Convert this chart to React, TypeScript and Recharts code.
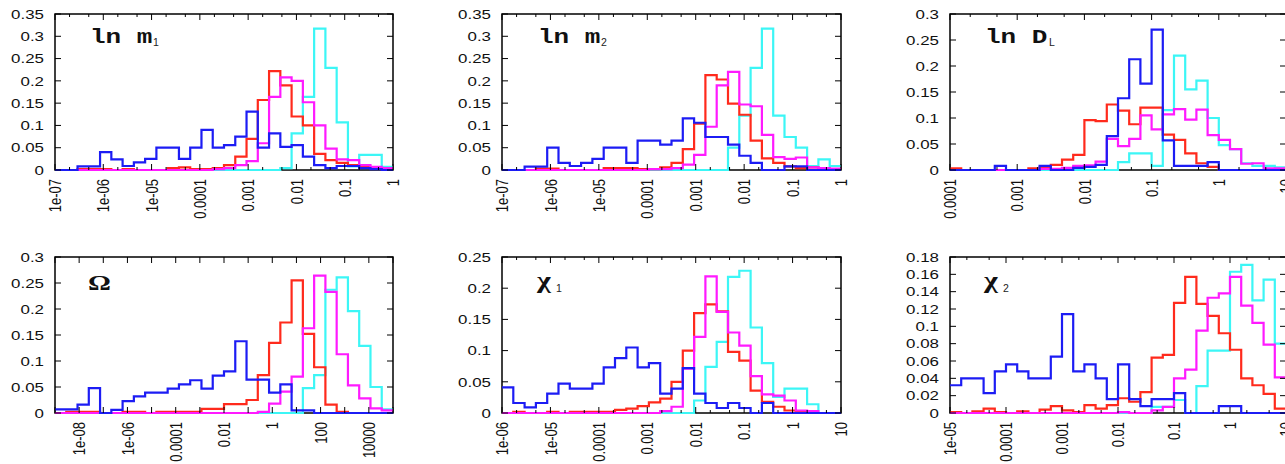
import React from 'react';
import { LineChart, Line, XAxis, YAxis, ReferenceArea } from 'recharts';

// x axes are log10, every panel has 30 equal bins spanning its x range
const xLabels7 = ['1e-07', '1e-06', '1e-05', '0.0001', '0.001', '0.01', '0.1', '1'];
const xLabelsDL = ['0.0001', '0.001', '0.01', '0.1', '1', '10'];
const xLabelsOmega = ['', '1e-08', '', '1e-06', '', '0.0001', '', '0.01', '', '1', '', '100', '', '10000', ''];
const xLabelsChi1 = ['1e-06', '1e-05', '0.0001', '0.001', '0.01', '0.1', '1', '10'];
const xLabelsChi2 = ['1e-05', '0.0001', '0.001', '0.01', '0.1', '1', '10'];

const yTicks35 = [0, 0.05, 0.1, 0.15, 0.2, 0.25, 0.3, 0.35];
const yLabels35 = ['0', '0.05', '0.1', '0.15', '0.2', '0.25', '0.3', '0.35'];
const yTicks30 = [0, 0.05, 0.1, 0.15, 0.2, 0.25, 0.3];
const yLabels30 = ['0', '0.05', '0.1', '0.15', '0.2', '0.25', '0.3'];
const yTicks25 = [0, 0.05, 0.1, 0.15, 0.2, 0.25];
const yLabels25 = ['0', '0.05', '0.1', '0.15', '0.2', '0.25'];
const yTicks18 = [0, 0.02, 0.04, 0.06, 0.08, 0.1, 0.12, 0.14, 0.16, 0.18];
const yLabels18 = ['0', '0.02', '0.04', '0.06', '0.08', '0.1', '0.12', '0.14', '0.16', '0.18'];

// ln m1
const m1Blue = [0, 0, 0.008, 0.008, 0.04, 0.024, 0.009, 0.017, 0.025, 0.05, 0.05, 0.025, 0.05, 0.09, 0.05, 0.056, 0.075, 0.131, 0.05, 0.082, 0.052, 0.056, 0.03, 0.011, 0.004, 0.009, 0.009, 0.004, 0.002, 0];
const m1Red = [0, 0, 0.002, 0.002, 0.002, 0, 0.002, 0, 0, 0, 0.004, 0.006, 0.002, 0.002, 0.004, 0.011, 0.03, 0.07, 0.157, 0.222, 0.19, 0.12, 0.1, 0.036, 0.022, 0.016, 0.011, 0.007, 0.004, 0.002];
const m1Magenta = [0, 0, 0, 0, 0, 0, 0, 0, 0, 0, 0, 0, 0, 0, 0.002, 0.004, 0.011, 0.02, 0.06, 0.164, 0.208, 0.2, 0.152, 0.1, 0.048, 0.024, 0.022, 0.011, 0.007, 0.004];
const m1Cyan = [0, 0, 0, 0, 0, 0, 0, 0, 0, 0, 0, 0, 0, 0, 0, 0, 0, 0, 0, 0, 0.004, 0.082, 0.164, 0.317, 0.229, 0.107, 0.008, 0.034, 0.034, 0.007];

// ln m2
const m2Blue = [0, 0, 0.0075, 0.0075, 0.05, 0.016, 0.009, 0.016, 0.025, 0.05, 0.05, 0.016, 0.066, 0.066, 0.057, 0.066, 0.116, 0.106, 0.074, 0.074, 0.057, 0.032, 0.016, 0, 0, 0.008, 0.008, 0, 0, 0];
const m2Red = [0, 0, 0, 0.003, 0.003, 0, 0, 0, 0, 0.004, 0.004, 0.004, 0.002, 0.002, 0.006, 0.016, 0.047, 0.104, 0.213, 0.203, 0.149, 0.124, 0.066, 0.026, 0.016, 0.008, 0.004, 0.006, 0.003, 0.002];
const m2Magenta = [0, 0, 0, 0, 0, 0, 0, 0, 0, 0, 0, 0, 0, 0.002, 0.002, 0.004, 0.012, 0.034, 0.097, 0.19, 0.22, 0.147, 0.143, 0.079, 0.029, 0.025, 0.028, 0.006, 0.004, 0.003];
const m2Cyan = [0, 0, 0, 0, 0, 0, 0, 0, 0, 0, 0, 0, 0, 0, 0, 0, 0, 0, 0, 0, 0.05, 0.122, 0.229, 0.317, 0.122, 0.074, 0.05, 0.009, 0.024, 0.009];

// ln D_L
const dlBlue = [0, 0, 0, 0, 0.008, 0, 0, 0, 0.008, 0, 0, 0.004, 0.006, 0.01, 0.065, 0.138, 0.213, 0.166, 0.27, 0.057, 0.008, 0.008, 0.008, 0.015, 0, 0, 0, 0, 0, 0];
const dlRed = [0.003, 0, 0, 0, 0, 0, 0, 0.003, 0.005, 0.01, 0.02, 0.029, 0.096, 0.094, 0.126, 0.114, 0.088, 0.12, 0.12, 0.068, 0.058, 0.032, 0.013, 0.006, 0, 0, 0, 0, 0, 0];
const dlMagenta = [0, 0, 0, 0, 0, 0, 0, 0, 0.002, 0.002, 0.004, 0.008, 0.009, 0.016, 0.06, 0.046, 0.06, 0.105, 0.078, 0.107, 0.117, 0.097, 0.116, 0.067, 0.058, 0.04, 0.012, 0.013, 0.003, 0.003];
const dlCyan = [0, 0, 0, 0, 0, 0, 0, 0, 0, 0, 0, 0, 0, 0, 0, 0.015, 0.032, 0.032, 0.008, 0.115, 0.22, 0.155, 0.172, 0.1, 0.048, 0.04, 0.013, 0.008, 0.008, 0.005];

// Omega
const omBlue = [0.007, 0.007, 0.016, 0.048, 0, 0.006, 0.023, 0.032, 0.039, 0.039, 0.047, 0.055, 0.063, 0.047, 0.072, 0.08, 0.138, 0.064, 0.064, 0.039, 0.055, 0.005, 0.005, 0, 0, 0, 0, 0, 0, 0];
const omRed = [0, 0.002, 0.002, 0.002, 0, 0, 0.002, 0.002, 0, 0.002, 0.002, 0.002, 0.002, 0.008, 0.008, 0.017, 0.017, 0.025, 0.073, 0.135, 0.174, 0.255, 0.152, 0.088, 0.016, 0.002, 0, 0, 0, 0];
const omMagenta = [0, 0, 0, 0, 0, 0, 0, 0, 0, 0, 0, 0, 0, 0, 0, 0, 0, 0, 0.002, 0.018, 0.041, 0.07, 0.163, 0.264, 0.233, 0.113, 0.053, 0.028, 0.009, 0.005];
const omCyan = [0, 0, 0, 0, 0, 0, 0, 0, 0, 0, 0, 0, 0, 0, 0, 0, 0, 0, 0, 0, 0, 0, 0.048, 0.073, 0.237, 0.261, 0.196, 0.129, 0.05, 0.007];

// chi1
const c1Blue = [0.041, 0.016, 0.009, 0.016, 0.031, 0.047, 0.039, 0.039, 0.047, 0.073, 0.088, 0.105, 0.073, 0.08, 0.031, 0.039, 0.072, 0.031, 0.016, 0.008, 0.016, 0.008, 0, 0.016, 0, 0, 0, 0, 0, 0];
const c1Red = [0, 0.002, 0, 0, 0.002, 0, 0.002, 0.002, 0.002, 0.002, 0.005, 0.007, 0.011, 0.017, 0.023, 0.05, 0.1, 0.16, 0.174, 0.163, 0.098, 0.084, 0.036, 0.018, 0.01, 0.004, 0.002, 0, 0, 0];
const c1Magenta = [0, 0, 0, 0, 0, 0, 0, 0, 0, 0, 0, 0, 0, 0, 0.003, 0.01, 0.071, 0.122, 0.219, 0.162, 0.129, 0.108, 0.059, 0.03, 0.028, 0.02, 0.004, 0.003, 0, 0];
const c1Cyan = [0, 0, 0, 0, 0, 0, 0, 0, 0, 0, 0, 0, 0, 0, 0, 0, 0, 0.02, 0.074, 0.114, 0.218, 0.228, 0.137, 0.08, 0.026, 0.039, 0.039, 0.014, 0, 0];

// chi2
const c2Blue = [0.032, 0.04, 0.04, 0.023, 0.048, 0.056, 0.048, 0.04, 0.04, 0.065, 0.114, 0.048, 0.056, 0.04, 0.016, 0.056, 0.016, 0.008, 0.016, 0.016, 0.023, 0, 0, 0, 0.008, 0.008, 0, 0, 0, 0];
const c2Red = [0.001, 0, 0.002, 0.005, 0.001, 0, 0.002, 0, 0.004, 0.008, 0.003, 0.001, 0.009, 0.005, 0.009, 0.017, 0.013, 0.024, 0.064, 0.067, 0.127, 0.157, 0.126, 0.112, 0.092, 0.073, 0.04, 0.032, 0.022, 0.005];
const c2Magenta = [0, 0, 0, 0, 0, 0, 0, 0, 0, 0, 0, 0, 0, 0, 0, 0.001, 0, 0, 0.003, 0.007, 0.04, 0.05, 0.095, 0.133, 0.138, 0.157, 0.124, 0.104, 0.079, 0.041];
const c2Cyan = [0, 0, 0, 0, 0, 0, 0, 0, 0, 0, 0, 0, 0, 0, 0, 0, 0, 0, 0.007, 0.007, 0.015, 0, 0.031, 0.072, 0.072, 0.163, 0.171, 0.13, 0.154, 0.08];

const COLORS = { cyan: '#3cf6f6', red: '#ff2a1c', magenta: '#ff1aff', blue: '#1c1cf4' };
const TICK_FONT = { fontFamily: '"Liberation Sans", Arial, sans-serif', fontSize: 13, fill: '#111' };

const PL = 55; // plot left inside each chart
const PT = 6; // plot top inside each chart
const PRM = 14; // room right of the plot for the last x label
const NB = 30;

type PanelProps = {
  left: number;
  top: number;
  plotW: number;
  plotH: number;
  lo: number;
  hi: number;
  xLabels: string[];
  minors: boolean;
  yTicks: number[];
  yLabels: string[];
  blue: number[];
  red: number[];
  magenta: number[];
  cyan: number[];
};

const Panel = (p: PanelProps) => {
  const PB = PT + p.plotH;
  const PR = PL + p.plotW;
  const rows = [];
  for (let i = 0; i <= NB; i++) {
    const k = Math.min(i, NB - 1);
    rows.push({
      x: 10 ** (p.lo + ((p.hi - p.lo) * i) / NB),
      blue: p.blue[k],
      red: p.red[k],
      magenta: p.magenta[k],
      cyan: p.cyan[k],
    });
  }
  const majors: number[] = [];
  for (let e = p.lo; e <= p.hi; e++) majors.push(e);
  const tickVals: number[] = majors.map((e) => 10 ** e);
  if (p.minors) {
    for (let e = p.lo; e < p.hi; e++) tickVals.push(2 * 10 ** e, 5 * 10 ** e);
  }

  const xTick = (props: any) => {
    const { x, payload } = props;
    const e = Math.log10(payload.value);
    const i = majors.findIndex((m) => Math.abs(m - e) < 1e-6);
    const len = i >= 0 ? 6 : 3;
    const label = i >= 0 ? p.xLabels[i] : '';
    return (
      <g>
        <line x1={x} x2={x} y1={PB} y2={PB - len} stroke="#000" />
        <line x1={x} x2={x} y1={PT} y2={PT + len} stroke="#000" />
        {label ? (
          <text
            transform={`translate(${x},${PB + 9}) scale(1.3,1) rotate(-90)`}
            textAnchor="end"
            dominantBaseline="central"
            {...TICK_FONT}
          >
            {label}
          </text>
        ) : null}
      </g>
    );
  };

  const yTick = (props: any) => {
    const { y, payload } = props;
    const i = p.yTicks.findIndex((t) => Math.abs(t - payload.value) < 1e-9);
    return (
      <g>
        <line x1={PL} x2={PL + 6} y1={y} y2={y} stroke="#000" />
        <line x1={PR} x2={PR - 6} y1={y} y2={y} stroke="#000" />
        <text
          transform={`translate(${PL - 11},${y}) scale(1.3,1)`}
          textAnchor="end"
          dominantBaseline="central"
          {...TICK_FONT}
        >
          {p.yLabels[i]}
        </text>
      </g>
    );
  };

  const yMax = p.yTicks[p.yTicks.length - 1];
  return (
    <div style={{ position: 'absolute', left: p.left - PL, top: p.top - PT }}>
      <LineChart
        width={PL + p.plotW + PRM}
        height={PT + p.plotH + 60}
        data={rows}
        margin={{ top: PT, right: PRM, left: 0, bottom: 0 }}
      >
        <XAxis
          dataKey="x"
          type="number"
          scale="log"
          domain={[10 ** p.lo, 10 ** p.hi]}
          allowDataOverflow
          ticks={tickVals}
          interval={0}
          tick={xTick}
          tickLine={false}
          axisLine={false}
          tickSize={0}
          height={60}
        />
        <YAxis
          type="number"
          domain={[0, yMax]}
          ticks={p.yTicks}
          interval={0}
          tick={yTick}
          tickLine={false}
          axisLine={false}
          tickSize={0}
          width={PL}
        />
        <ReferenceArea
          x1={10 ** p.lo}
          x2={10 ** p.hi}
          y1={0}
          y2={yMax}
          fill="none"
          fillOpacity={0}
          stroke="#000"
          strokeWidth={1.5}
        />
        <Line type="stepAfter" dataKey="cyan" stroke={COLORS.cyan} strokeWidth={2.2} dot={false} isAnimationActive={false} />
        <Line type="stepAfter" dataKey="red" stroke={COLORS.red} strokeWidth={2.2} dot={false} isAnimationActive={false} />
        <Line type="stepAfter" dataKey="magenta" stroke={COLORS.magenta} strokeWidth={2.2} dot={false} isAnimationActive={false} />
        <Line type="stepAfter" dataKey="blue" stroke={COLORS.blue} strokeWidth={2.2} dot={false} isAnimationActive={false} />
      </LineChart>
    </div>
  );
};

const MONO = { fontFamily: '"Liberation Mono", "Courier New", monospace', fontWeight: 700, fontSize: 20, fill: '#111' };
const SERIF_B = { fontFamily: '"Liberation Serif", "Times New Roman", serif', fontWeight: 700, fill: '#111' };
const SUB = { fontFamily: '"Liberation Sans", Arial, sans-serif', fontSize: 10.5, fill: '#222' };

const Titles = () => (
  <svg width={1285} height={464} style={{ position: 'absolute', left: 0, top: 0, pointerEvents: 'none' }}>
    <text transform="translate(90,43) scale(1.3,1)" {...MONO}>ln m</text>
    <text x={153} y={46} {...SUB}>1</text>
    <text transform="translate(538,43) scale(1.3,1)" {...MONO}>ln m</text>
    <text x={601} y={46} {...SUB}>2</text>
    <text transform="translate(985,43) scale(1.3,1)" {...MONO}>ln D</text>
    <text x={1049} y={46} {...SUB}>L</text>
    <text transform="translate(88,290) scale(1.3,1)" fontSize={22} {...SERIF_B}>Ω</text>
    <text transform="translate(537,288) scale(1.3,1)" fontSize={23} {...SERIF_B}>χ</text>
    <text x={556} y={292} {...SUB}>1</text>
    <text transform="translate(984,288) scale(1.3,1)" fontSize={23} {...SERIF_B}>χ</text>
    <text x={1003} y={292} {...SUB}>2</text>
  </svg>
);

export default function App() {
  return (
    <div style={{ position: 'absolute', left: 0, top: 0, width: 1285, height: 464, overflow: 'hidden', background: '#fff' }}>
      <Panel left={55} top={14} plotW={338} plotH={156} lo={-7} hi={0} xLabels={xLabels7} minors yTicks={yTicks35} yLabels={yLabels35} blue={m1Blue} red={m1Red} magenta={m1Magenta} cyan={m1Cyan} />
      <Panel left={502} top={14} plotW={339} plotH={156} lo={-7} hi={0} xLabels={xLabels7} minors yTicks={yTicks35} yLabels={yLabels35} blue={m2Blue} red={m2Red} magenta={m2Magenta} cyan={m2Cyan} />
      <Panel left={950} top={14} plotW={336} plotH={156} lo={-4} hi={1} xLabels={xLabelsDL} minors yTicks={yTicks30} yLabels={yLabels30} blue={dlBlue} red={dlRed} magenta={dlMagenta} cyan={dlCyan} />
      <Panel left={55} top={257} plotW={338} plotH={156} lo={-9} hi={5} xLabels={xLabelsOmega} minors={false} yTicks={yTicks30} yLabels={yLabels30} blue={omBlue} red={omRed} magenta={omMagenta} cyan={omCyan} />
      <Panel left={502} top={257} plotW={339} plotH={156} lo={-6} hi={1} xLabels={xLabelsChi1} minors yTicks={yTicks25} yLabels={yLabels25} blue={c1Blue} red={c1Red} magenta={c1Magenta} cyan={c1Cyan} />
      <Panel left={950} top={257} plotW={336} plotH={156} lo={-5} hi={1} xLabels={xLabelsChi2} minors yTicks={yTicks18} yLabels={yLabels18} blue={c2Blue} red={c2Red} magenta={c2Magenta} cyan={c2Cyan} />
      <Titles />
    </div>
  );
}
